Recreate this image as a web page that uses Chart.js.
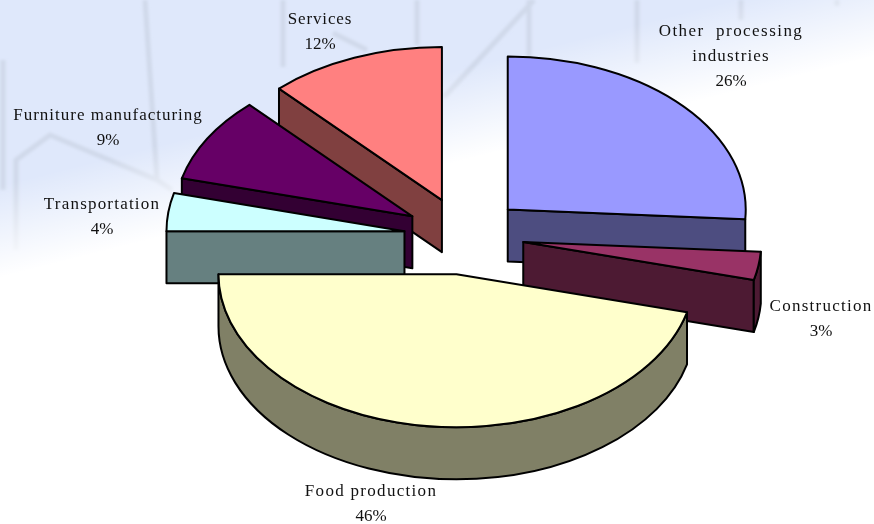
<!DOCTYPE html>
<html>
<head>
<meta charset="utf-8">
<title>Output by industry</title>
<style>
  html, body { margin: 0; padding: 0; background: #fff; }
  #stage { position: relative; width: 874px; height: 524px; overflow: hidden; }
  #stage svg, #stage canvas { position: absolute; left: 0; top: 0; }
</style>
<script src="https://cdn.jsdelivr.net/npm/chart.js@4"></script>
</head>
<body>
<div id="stage">
  <svg width="874" height="524" viewBox="0 0 874 524" aria-hidden="true">
    <defs>
      <filter id="soft" x="-5%" y="-5%" width="110%" height="110%"><feGaussianBlur stdDeviation="1.6"/></filter>
      <linearGradient id="fade" gradientUnits="userSpaceOnUse" x1="0" y1="185" x2="22" y2="272">
        <stop offset="0" stop-color="#fff" stop-opacity="0"/>
        <stop offset="1" stop-color="#fff" stop-opacity="1"/>
      </linearGradient>
    </defs>
    <rect width="874" height="524" fill="#dfe8fb"/>
    <g fill="none" stroke="#d0d9ea" stroke-width="5" filter="url(#soft)">
      <path d="M145 0L157 180"/>
      <path d="M3 60V190"/>
      <path d="M16 250V160L50 135L157 180L172 190"/>
      <path d="M283 0V67"/>
      <path d="M417 0V45"/>
      <path d="M333 33L367 50"/>
      <path d="M534 0L444 97"/>
      <path d="M529 0V57"/>
      <path d="M637 0V63"/>
      <path d="M741 0V20"/>
      <path d="M837 0V6"/>
    </g>
    <rect width="874" height="524" fill="url(#fade)"/>
  </svg>
  <canvas id="pie" width="874" height="524"></canvas>
</div>
<script>
// Share of output per industry, clockwise from twelve o'clock.
const categories = ['Other processing industries', 'Construction', 'Food production',
                    'Transportation', 'Furniture manufacturing', 'Services'];
const shares = [26, 3, 46, 4, 9, 12];
const topColors = ['#9999FF', '#993366', '#FFFFCC', '#CCFFFF', '#660066', '#FF8080'];

// Slices are painted back to front so nearer walls overlap those behind them.
const paintOrder = [5, 4, 3, 0, 1, 2];

// Wrapped label text and its placement: centre x, centre y of the first line.
const labelLines = [['Other  processing', 'industries'], ['Construction'], ['Food production'],
                    ['Transportation'], ['Furniture manufacturing'], ['Services']];
const labelSpots = [[731, 32], [821, 307], [371, 492], [102, 205], [108, 116], [320, 20]];
// Letter spacing per wrapped line, in pixels.
const labelTracking = [[1.45, 1.15], [1.25], [1.3], [1.2], [1.0], [0.85]];

const SQUASH = 0.643;   // vertical foreshortening of the tilted pie
const DEPTH = 52;       // wall height in pixels
const EXPLODE = 60;     // how far each slice is pulled out from the centre
const OUTLINE = 2;
const LABEL_LEADING = 25;

function darken(hex) {
  const n = parseInt(hex.slice(1), 16);
  const half = v => Math.round(v / 2);
  return `rgb(${half(n >> 16 & 255)},${half(n >> 8 & 255)},${half(n & 255)})`;
}

const tiltedPie = {
  id: 'tiltedPie',
  beforeDatasetsDraw(chart) {
    const ctx = chart.ctx;
    const arcs = chart.getDatasetMeta(0).data;

    paintOrder.forEach(i => {
      const arc = arcs[i];
      const { x, y, startAngle, endAngle, outerRadius: r } =
        arc.getProps(['x', 'y', 'startAngle', 'endAngle', 'outerRadius'], true);
      const mid = (startAngle + endAngle) / 2;
      const ox = x + Math.cos(mid) * EXPLODE;
      const oy = y + Math.sin(mid) * EXPLODE * SQUASH;
      const rim = a => [ox + r * Math.cos(a), oy + r * Math.sin(a) * SQUASH];

      const outline = () => {
        ctx.lineWidth = OUTLINE;
        ctx.lineJoin = 'round';
        ctx.strokeStyle = '#000';
        ctx.stroke();
      };

      // Flat radial wall hanging below one straight edge of the slice.
      const radialWall = a => {
        const [ex, ey] = rim(a);
        ctx.beginPath();
        ctx.moveTo(ox, oy);
        ctx.lineTo(ex, ey);
        ctx.lineTo(ex, ey + DEPTH);
        ctx.lineTo(ox, oy + DEPTH);
        ctx.closePath();
        ctx.fillStyle = darken(topColors[i]);
        ctx.fill();
        outline();
      };
      if (Math.cos(startAngle) < -1e-6) radialWall(startAngle);
      if (Math.cos(endAngle) > 1e-6) radialWall(endAngle);

      // Curved outer wall: only the stretch on the near half of the ellipse shows.
      const turn = Math.floor(startAngle / (2 * Math.PI)) * 2 * Math.PI;
      const from = Math.max(startAngle, turn);
      const to = Math.min(endAngle, turn + Math.PI);
      if (to > from) {
        ctx.save();
        ctx.translate(ox, oy);
        ctx.scale(1, SQUASH);
        ctx.beginPath();
        ctx.arc(0, 0, r, from, to);
        ctx.restore();
        ctx.save();
        ctx.translate(ox, oy + DEPTH);
        ctx.scale(1, SQUASH);
        ctx.arc(0, 0, r, to, from, true);
        ctx.restore();
        ctx.closePath();
        ctx.fillStyle = darken(topColors[i]);
        ctx.fill();
        outline();
      }

      // Top face, filled by the library's own arc element under the tilt transform.
      ctx.save();
      ctx.translate(ox, oy);
      ctx.scale(1, SQUASH);
      ctx.translate(-x, -y);
      arc.draw(ctx);
      ctx.restore();

      // Its outline is stroked after the transform is gone, so the pen stays round.
      ctx.save();
      ctx.translate(ox, oy);
      ctx.scale(1, SQUASH);
      ctx.beginPath();
      ctx.moveTo(0, 0);
      ctx.arc(0, 0, r, startAngle, endAngle);
      ctx.closePath();
      ctx.restore();
      outline();
    });
    return false;
  },
  afterDraw(chart) {
    const ctx = chart.ctx;
    ctx.save();
    ctx.font = '17px "Liberation Serif"';
    ctx.fillStyle = '#111';
    ctx.textAlign = 'center';
    ctx.textBaseline = 'middle';
    categories.forEach((_, i) => {
      const [cx, cy] = labelSpots[i];
      const lines = [...labelLines[i], shares[i] + '%'];
      lines.forEach((line, n) => {
        ctx.letterSpacing = (labelTracking[i][n] || 0) + 'px';
        ctx.fillText(line, cx, cy + n * LABEL_LEADING);
      });
    });
    ctx.restore();
  }
};

new Chart(document.getElementById('pie'), {
  type: 'pie',
  data: {
    labels: categories,
    datasets: [{
      data: shares,
      backgroundColor: topColors,
      borderWidth: 0
    }]
  },
  options: {
    responsive: false,
    animation: false,
    radius: 238,
    layout: { padding: { left: 54, bottom: 52 } },
    plugins: { legend: { display: false }, tooltip: { enabled: false } }
  },
  plugins: [tiltedPie]
});
</script>
</body>
</html>
